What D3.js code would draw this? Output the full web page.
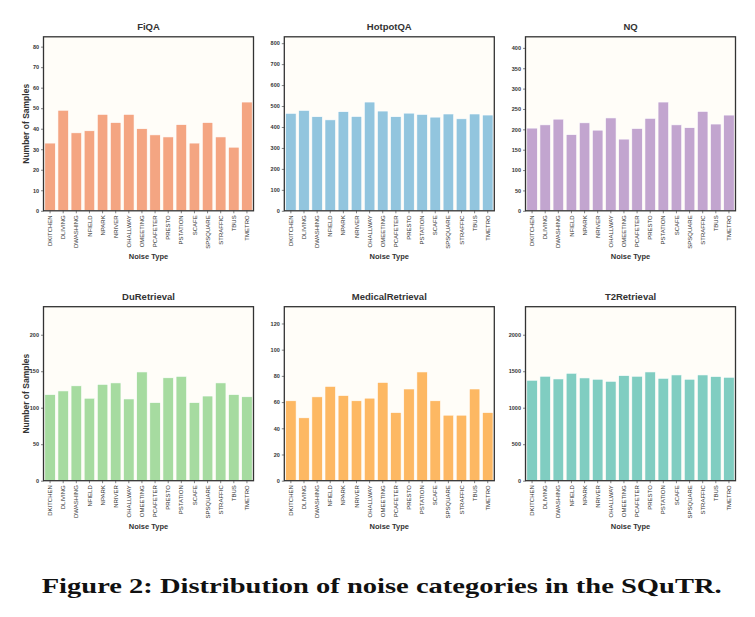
<!DOCTYPE html>
<html>
<head>
<meta charset="utf-8">
<script src="https://cdn.jsdelivr.net/npm/d3@7"></script>
<style>
  html, body { margin: 0; padding: 0; background: #fff; }
  svg { display: block; }
</style>
</head>
<body>
<svg id="chart" width="755" height="617"></svg>
<script>
const categories = ["DKITCHEN","DLIVING","DWASHING","NFIELD","NPARK","NRIVER","OHALLWAY","OMEETING","PCAFETER","PRESTO","PSTATION","SCAFE","SPSQUARE","STRAFFIC","TBUS","TMETRO"];

const datasetNames = ["FiQA","HotpotQA","NQ","DuRetrieval","MedicalRetrieval","T2Retrieval"];
const fiqaValues = [33,49,38,39,47,43,47,40,37,36,42,33,43,36,31,53];
const hotpotqaValues = [465,479,449,434,473,450,519,476,449,466,460,447,462,439,462,457];
const nqValues = [203,211,225,187,216,198,228,176,202,227,267,211,204,244,213,235];
const duretrievalValues = [118,123,130,113,132,134,112,149,107,141,143,107,116,134,118,115];
const medicalValues = [61,48,64,72,65,61,63,75,52,70,83,61,50,50,70,52];
const t2Values = [1376,1431,1394,1472,1408,1390,1362,1440,1431,1490,1403,1449,1390,1449,1427,1417];

const fiqaTicks = [0,10,20,30,40,50,60,70,80];
const hotpotqaTicks = [0,100,200,300,400,500,600,700,800];
const nqTicks = [0,50,100,150,200,250,300,350,400];
const duretrievalTicks = [0,50,100,150,200];
const medicalTicks = [0,20,40,60,80,100,120];
const t2Ticks = [0,500,1000,1500,2000];

const barColors = ["#f4a582","#92c5de","#c2a5cf","#a6dba0","#fdb863","#80cdc1"];

const seriesList = [fiqaValues, hotpotqaValues, nqValues, duretrievalValues, medicalValues, t2Values];
const tickList = [fiqaTicks, hotpotqaTicks, nqTicks, duretrievalTicks, medicalTicks, t2Ticks];

const svg = d3.select("#chart");
svg.append("rect").attr("width",755).attr("height",617).attr("fill","#fff");

const colLefts = [43.5, 284.3, 525.5];
const rowTops = [36.8, 306.7];
const pw = 210, ph = 174;
const textColor = "#333";
const sans = "'Liberation Sans', Arial, sans-serif";

datasetNames.forEach((name, i) => {
  const col = i % 3, row = Math.floor(i / 3);
  const g = svg.append("g").attr("transform", `translate(${colLefts[col]},${rowTops[row]})`);
  const values = seriesList[i];
  const x = d3.scaleBand().domain(categories).range([0, pw]).paddingInner(0.2).paddingOuter(0.1);
  const y = d3.scaleLinear().domain([0, d3.max(values) * 1.6]).range([ph, 0]);

  g.append("rect").attr("width", pw).attr("height", ph).attr("fill", "#fffdf8");

  g.selectAll("rect.bar").data(values).join("rect")
    .attr("class","bar")
    .attr("x", (d, k) => x(categories[k]))
    .attr("y", d => y(d))
    .attr("width", x.bandwidth())
    .attr("height", d => ph - y(d))
    .attr("fill", barColors[i])
    .attr("stroke", "#fff")
    .attr("stroke-width", 0.6);

  const yAxis = g.append("g").call(d3.axisLeft(y).tickValues(tickList[i]).tickSize(2.5).tickPadding(2).tickFormat(d3.format("d")));
  yAxis.select(".domain").remove();
  yAxis.selectAll("line").attr("stroke", textColor).attr("stroke-width", 0.6);
  yAxis.selectAll("text").attr("font-family", sans).attr("font-size", 5.5).attr("fill", textColor).attr("font-weight", "bold");

  const xAxis = g.append("g").attr("transform", `translate(0,${ph})`).call(d3.axisBottom(x).tickSize(2.5).tickPadding(2));
  xAxis.select(".domain").remove();
  xAxis.selectAll("line").attr("stroke", textColor).attr("stroke-width", 0.6);
  xAxis.selectAll("text")
    .attr("font-family", sans).attr("font-size", 6).attr("fill", textColor)
    .attr("transform", "rotate(-90)")
    .attr("text-anchor", "end")
    .attr("x", -4.5).attr("y", 0).attr("dy", "0.35em");

  g.append("rect").attr("width", pw).attr("height", ph).attr("fill", "none")
    .attr("stroke", "#333").attr("stroke-width", 1.3);

  g.append("text").attr("x", pw / 2).attr("y", -7)
    .attr("text-anchor", "middle").attr("font-family", sans).attr("font-weight", "bold")
    .attr("font-size", 9.5).attr("fill", textColor).text(name);

  g.append("text").attr("x", pw / 2).attr("y", ph + 48.5)
    .attr("text-anchor", "middle").attr("font-family", sans).attr("font-weight", "bold")
    .attr("font-size", 7.5).attr("fill", textColor).text("Noise Type");

  if (col === 0) {
    g.append("text").attr("transform", `translate(-14.5,${ph / 2}) rotate(-90)`)
      .attr("text-anchor", "middle").attr("font-family", sans).attr("font-weight", "bold")
      .attr("font-size", 8.5).attr("fill", textColor).text("Number of Samples");
  }
});

svg.append("text").attr("x", 41.7).attr("y", 593)
  .attr("font-family", "'Liberation Serif', 'DejaVu Serif', serif").attr("font-weight", "bold")
  .attr("font-size", 21).attr("fill", "#111")
  .attr("textLength", 680).attr("lengthAdjust", "spacingAndGlyphs")
  .text("Figure 2: Distribution of noise categories in the SQuTR.");
</script>
</body>
</html>
